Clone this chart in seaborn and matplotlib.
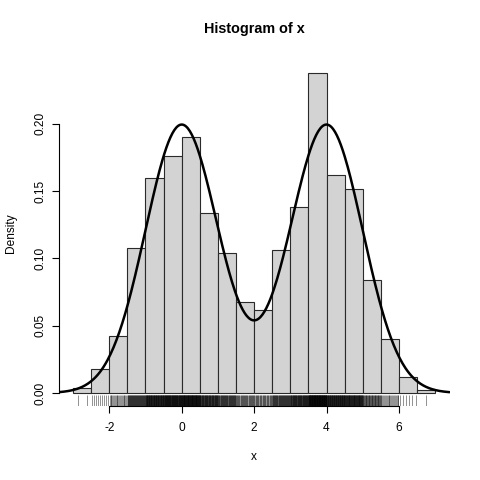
import numpy as np
import pandas as pd
import matplotlib
matplotlib.use("Agg")
import matplotlib.pyplot as plt
import seaborn as sns

# ---- data ----
bin_edges = [-3.0, -2.5, -2.0, -1.5, -1.0, -0.5, 0.0, 0.5, 1.0, 1.5, 2.0,
             2.5, 3.0, 3.5, 4.0, 4.5, 5.0, 5.5, 6.0, 6.5, 7.0]
densities = [0.004, 0.018, 0.042, 0.108, 0.160, 0.176, 0.190, 0.134, 0.104, 0.068,
             0.062, 0.106, 0.138, 0.238, 0.162, 0.152, 0.084, 0.040, 0.012, 0.002]
n_obs = 1000
mix_means = [0.0, 4.0]
mix_sds = [1.0, 1.0]
mix_weights = [0.5, 0.5]
x_ticks = [-2, 0, 2, 4, 6]
y_ticks = [0.00, 0.05, 0.10, 0.15, 0.20]
y_tick_labels = ["0.00", "0.05", "0.10", "0.15", "0.20"]

edges = np.array(bin_edges)
centers = (edges[:-1] + edges[1:]) / 2
width = edges[1] - edges[0]
counts = np.rint(np.array(densities) * n_obs * width).astype(int)

# rug positions: observations spread within their bins according to the counts
rug_x = np.concatenate([
    lo + (np.arange(c) + 0.5) * width / c for lo, c in zip(edges[:-1], counts) if c > 0
])

sns.set_style("white")
plt.rcParams["font.family"] = ["Liberation Sans", "DejaVu Sans"]
plt.rcParams["text.color"] = "black"
plt.rcParams["xtick.color"] = "black"
plt.rcParams["ytick.color"] = "black"

fig = plt.figure(figsize=(4.8, 4.8), dpi=100)
ax = fig.add_axes([58.6 / 480, 1 - 405.8 / 480, (449.6 - 58.6) / 480, (405.8 - 60) / 480])

hist_df = pd.DataFrame({"x": centers, "w": densities})
sns.histplot(data=hist_df, x="x", weights="w", bins=list(bin_edges), stat="count",
             color="#D3D3D3", edgecolor="#2a2a2a", linewidth=0.8, alpha=1, ax=ax)

xs = np.linspace(-3.4, 7.4, 400)
ys = sum(w * np.exp(-0.5 * ((xs - m) / s) ** 2) / (s * np.sqrt(2 * np.pi))
         for m, s, w in zip(mix_means, mix_sds, mix_weights))
sns.lineplot(x=xs, y=ys, color="black", linewidth=1.8, ax=ax)

sns.rugplot(x=rug_x, height=0.03, color="black", linewidth=0.5, alpha=0.6, ax=ax)

ymax = max(densities)
ax.set_xlim(-3.4, 7.4)
ax.set_ylim(-0.04 * ymax, ymax * 1.04)

for s in ["top", "right"]:
    ax.spines[s].set_visible(False)
ax.spines["left"].set_bounds(0, 0.2)
ax.spines["bottom"].set_bounds(-2, 6)
for s in ["left", "bottom"]:
    ax.spines[s].set_color("black")
    ax.spines[s].set_linewidth(0.8)

ax.set_xticks(x_ticks)
ax.set_xticklabels([str(t) for t in x_ticks])
ax.set_yticks(y_ticks)
ax.set_yticklabels(y_tick_labels, rotation=90, va="center")
ax.tick_params(axis="both", which="both", direction="out", length=5, width=0.8,
               color="black", labelcolor="black", labelsize=8.6, bottom=True, left=True)
ax.tick_params(axis="x", pad=6.5)
ax.tick_params(axis="y", pad=4)

ax.set_xlabel("")
ax.set_ylabel("")
fig.text(254 / 480, 1 - 457 / 480, "x", ha="center", va="center", fontsize=8.6,
         color="black")
fig.text(11 / 480, 1 - 233 / 480, "Density", ha="center", va="center",
         rotation=90, fontsize=8.6, color="black")
fig.text(254 / 480, 1 - 29 / 480, "Histogram of x", ha="center", va="center",
         fontsize=10.4, fontweight="bold", color="black")

fig.savefig("out.png", dpi=100, facecolor="white")
